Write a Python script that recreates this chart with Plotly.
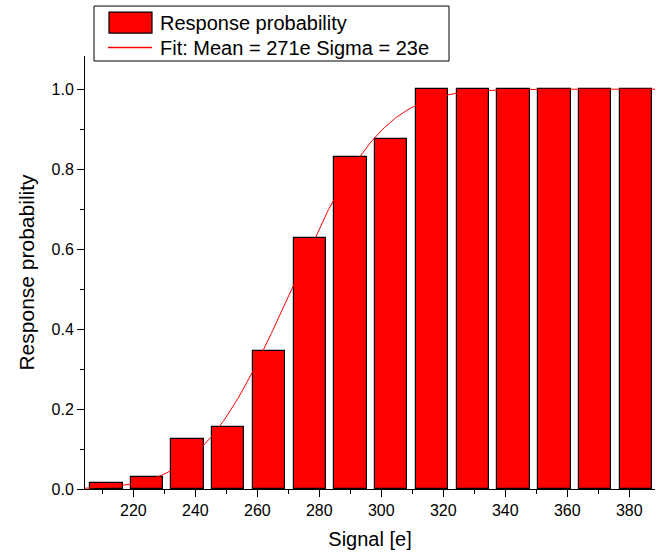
import math
import plotly.graph_objects as go

# ---- data ----
signal = [211.3, 224.4, 237.5, 250.6, 263.8, 276.9, 290.1, 303.2,
          316.4, 329.5, 342.7, 355.9, 369.0, 382.2]
probability = [0.015, 0.03, 0.125, 0.155, 0.344, 0.627, 0.83, 0.875,
               1.0, 1.0, 1.0, 1.0, 1.0, 1.0]
bar_width = 10.45
FIT_MEAN = 271.0
FIT_SIGMA = 23.0
x_ticks = [220, 240, 260, 280, 300, 320, 340, 360, 380]
x_minor = [210, 230, 250, 270, 290, 310, 330, 350, 370]
y_ticks = [0.0, 0.2, 0.4, 0.6, 0.8, 1.0]
y_minor = [0.1, 0.3, 0.5, 0.7, 0.9]
legend_labels = ["Response probability",
                 "Fit: Mean = %de Sigma = %de" % (FIT_MEAN, FIT_SIGMA)]

fit_x = [204.0 + 0.5 * i for i in range(370)]
fit_y = [0.5 * (1 + math.erf((x - FIT_MEAN) / (FIT_SIGMA * math.sqrt(2)))) for x in fit_x]

FONT = "Liberation Sans, Arial, sans-serif"
W, H = 659, 556
ML, MR, MT, MB = 85, 4, 56, 66.5
PW, PH = W - ML - MR, H - MT - MB


def px(xp):
    return (xp - ML) / PW


def py(yp):
    return (H - MB - yp) / PH


fig = go.Figure()
fig.add_trace(go.Bar(
    x=signal, y=probability, width=bar_width,
    marker=dict(color="#ff0000", line=dict(color="#000000", width=1.2)),
    name=legend_labels[0], showlegend=False,
))
fig.add_trace(go.Scatter(
    x=fit_x, y=fit_y, mode="lines",
    line=dict(color="#ff0000", width=1),
    name=legend_labels[1], showlegend=False,
))

# legend frame and keys, matching the original's legend box
shapes = [
    dict(type="rect", xref="paper", yref="paper", x0=px(94), x1=px(449), y0=py(61), y1=py(6),
         line=dict(color="black", width=1), fillcolor="white", layer="above"),
    dict(type="rect", xref="paper", yref="paper", x0=px(109), x1=px(152), y0=py(33), y1=py(12),
         line=dict(color="black", width=1.2), fillcolor="#ff0000", layer="above"),
    dict(type="line", xref="paper", yref="paper", x0=px(108), x1=px(152), y0=py(47.5), y1=py(47.5),
         line=dict(color="#ff0000", width=1.3), layer="above"),
]
annotations = [
    dict(text=legend_labels[0], xref="paper", yref="paper", x=px(158), y=py(22.5),
         xanchor="left", yanchor="middle", showarrow=False,
         font=dict(family=FONT, size=20, color="black")),
    dict(text=legend_labels[1], xref="paper", yref="paper", x=px(158), y=py(47.5),
         xanchor="left", yanchor="middle", showarrow=False,
         font=dict(family=FONT, size=20, color="black")),
]

fig.update_layout(
    width=W, height=H,
    margin=dict(l=ML, r=MR, t=MT, b=MB),
    plot_bgcolor="white", paper_bgcolor="white",
    font=dict(family=FONT, color="black", size=16),
    showlegend=False,
    shapes=shapes, annotations=annotations,
    bargap=0,
)
fig.update_xaxes(
    range=[204.4, 388.3], tickvals=x_ticks, ticktext=[str(t) for t in x_ticks],
    ticks="outside", ticklen=7, tickwidth=1, tickcolor="black",
    minor=dict(tickvals=x_minor, ticks="outside",
               ticklen=4, tickwidth=1, tickcolor="black"),
    showline=True, linecolor="black", linewidth=1, mirror=False,
    showgrid=False, zeroline=False,
    title=dict(text="Signal [e]", font=dict(size=20), standoff=13),
    tickfont=dict(size=16),
)
fig.update_yaxes(
    range=[0, 1.083], tickvals=y_ticks, ticktext=["%.1f" % t for t in y_ticks],
    ticks="outside", ticklen=7, tickwidth=1, tickcolor="black",
    minor=dict(tickvals=y_minor, ticks="outside",
               ticklen=4, tickwidth=1, tickcolor="black"),
    showline=True, linecolor="black", linewidth=1, mirror=False,
    showgrid=False, zeroline=False,
    title=dict(text="Response probability", font=dict(size=21), standoff=11),
    tickfont=dict(size=16),
)

fig.write_html("out.html")
